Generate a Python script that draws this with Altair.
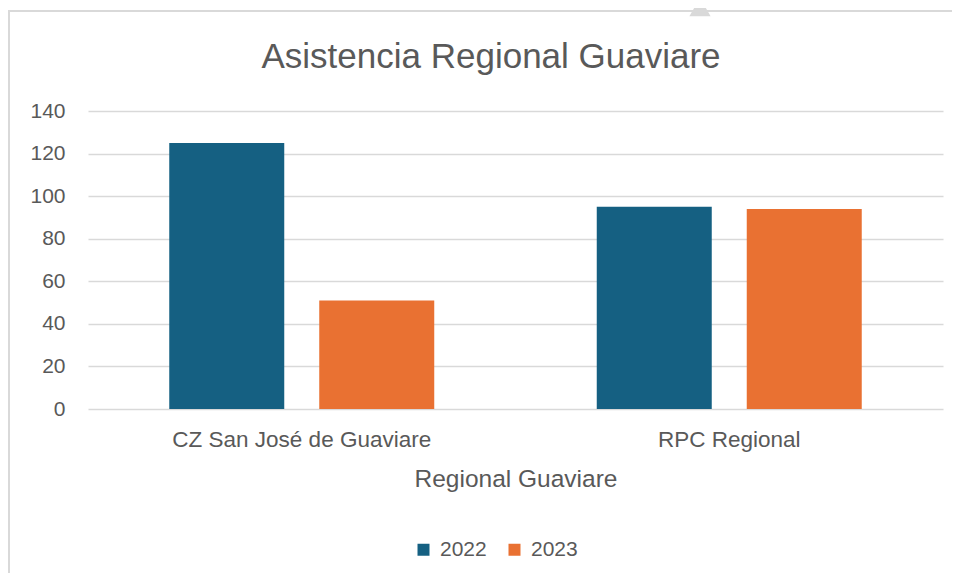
import altair as alt
import pandas as pd

categories = ["CZ San José de Guaviare", "RPC Regional"]
years = ["2022", "2023"]
values_2022 = [125, 95]
values_2023 = [51, 94]
colors = ["#156082", "#E97132"]
chart_title = "Asistencia Regional Guaviare"

rows = []
for i, c in enumerate(categories):
    rows.append({"cat": c, "year": years[0], "value": values_2022[i]})
    rows.append({"cat": c, "year": years[1], "value": values_2023[i]})
df = pd.DataFrame(rows)

FONT = "Liberation Sans"
GRAY = "#595959"

one = pd.DataFrame({"t": [chart_title]})

frame = alt.Chart(one).mark_rect(
    filled=False, stroke="#d9d9d9", strokeWidth=2
).encode(
    x=alt.value(-79), x2=alt.value(1000), y=alt.value(-100), y2=alt.value(600)
)

notch = alt.Chart(one).mark_point(
    shape="triangle-up", filled=True, color="#d9d9d9", opacity=1, size=450
).encode(x=alt.value(612), y=alt.value(-104))

title = alt.Chart(one).mark_text(
    font=FONT, fontSize=35, color=GRAY, align="center", baseline="middle"
).encode(text="t:N", x=alt.value(403), y=alt.value(-54))

bars = alt.Chart(df).mark_bar().encode(
    x=alt.X(
        "cat:N",
        sort=categories,
        title="Regional Guaviare",
        scale=alt.Scale(paddingInner=0, paddingOuter=0),
        axis=alt.Axis(
            labelAngle=0, domain=False, ticks=False, labelPadding=19, labelLimit=0,
            labelFontSize=22.5, labelColor=GRAY, labelFont=FONT,
            titleFontSize=24.5, titleColor=GRAY, titleFont=FONT,
            titleFontWeight="normal", titlePadding=17,
        ),
    ),
    xOffset=alt.XOffset(
        "year:N", sort=years,
        scale=alt.Scale(paddingInner=0.2333, paddingOuter=0.5417),
    ),
    y=alt.Y(
        "value:Q",
        title=None,
        scale=alt.Scale(domain=[0, 140]),
        axis=alt.Axis(
            values=[0, 20, 40, 60, 80, 100, 120, 140], domain=False, ticks=False,
            labelPadding=23, labelFontSize=21, labelColor=GRAY, labelFont=FONT,
            gridColor="#d9d9d9", gridWidth=1.5,
        ),
    ),
    color=alt.Color(
        "year:N",
        scale=alt.Scale(domain=years, range=colors),
        legend=alt.Legend(
            title=None, orient="none", legendX=325, legendY=428,
            direction="horizontal", symbolType="square", symbolSize=144,
            symbolStrokeWidth=0, labelFontSize=21, labelColor=GRAY, labelFont=FONT,
            labelOffset=6, columnPadding=17, padding=0,
        ),
    ),
)

chart = alt.layer(frame, notch, title, bars).properties(
    width=855,
    height=298,
    autosize=alt.AutoSizeParams(type="none"),
    padding={"left": 80, "top": 103, "right": 9, "bottom": 164},
).configure_view(stroke=None)

chart.save("out.html", embed_options={"renderer": "svg", "actions": False})
